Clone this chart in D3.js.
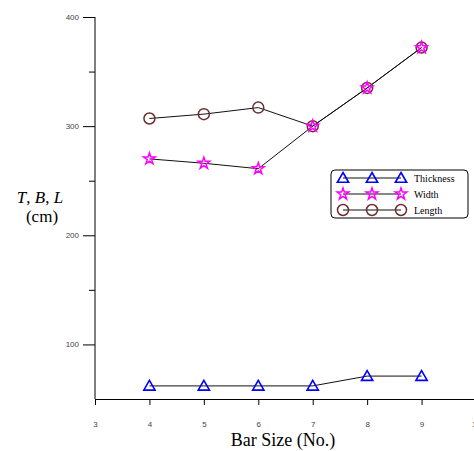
<!DOCTYPE html>
<html><head><meta charset="utf-8">
<script src="https://cdn.jsdelivr.net/npm/d3@7"></script>
<style>body{margin:0;background:#fff}svg{display:block}</style>
</head><body>
<svg id="c" width="474" height="451"></svg>
<script>
const barSizes = [4, 5, 6, 7, 8, 9];
const thickness = [62, 62, 62, 62, 71, 71];
const width = [270, 266, 261, 300, 335, 372];
const length = [307, 311, 317, 300, 335, 372];
const xTicks = [3, 4, 5, 6, 7, 8, 9, 10];
const yTicks = [100, 200, 300, 400];
const yMinor = [150, 250, 350];
const seriesNames = ["Thickness", "Width", "Length"];

const svg = d3.select("#c");
const x = d3.scaleLinear().domain([3, 10]).range([95, 476]);
const y = d3.scaleLinear().domain([50, 400]).range([399, 17]);

// axes
const xAxis = svg.append("g").attr("transform", "translate(0,399)")
  .call(d3.axisBottom(x).tickValues(xTicks).tickFormat(d3.format("d")).tickSize(6).tickPadding(16));
xAxis.select(".domain").attr("stroke", "#000");
xAxis.selectAll("text").attr("font-family", "Arial, Liberation Sans, sans-serif").attr("font-size", 8).attr("fill", "#444");

const yAxis = svg.append("g").attr("transform", "translate(95,0)")
  .call(d3.axisLeft(y).tickValues(yTicks).tickFormat(d3.format("d")).tickSize(12).tickPadding(4));
yAxis.select(".domain").attr("d", `M-0,${y(400)}V${y(50)}`).attr("stroke", "#000");
yAxis.selectAll("text").attr("font-family", "Arial, Liberation Sans, sans-serif").attr("font-size", 8).attr("fill", "#444");
svg.append("g").attr("transform", "translate(95,0)")
  .call(d3.axisLeft(y).tickValues(yMinor).tickFormat("").tickSize(6))
  .select(".domain").remove();

// titles
svg.append("text").attr("x", 283).attr("y", 446).attr("text-anchor", "middle")
  .attr("font-family", "Liberation Serif, Times New Roman, serif").attr("font-size", 18).text("Bar Size (No.)");
const yl = svg.append("text").attr("x", 40).attr("y", 203).attr("text-anchor", "middle")
  .attr("font-family", "Liberation Serif, Times New Roman, serif").attr("font-size", 17);
yl.append("tspan").attr("font-style", "italic").text("T");
yl.append("tspan").text(", ");
yl.append("tspan").attr("font-style", "italic").text("B");
yl.append("tspan").text(", ");
yl.append("tspan").attr("font-style", "italic").text("L");
svg.append("text").attr("x", 42).attr("y", 222).attr("text-anchor", "middle")
  .attr("font-family", "Liberation Serif, Times New Roman, serif").attr("font-size", 17).text("(cm)");

const line = d3.line().x((d, i) => x(barSizes[i])).y(d => y(d));
const starPath = d3.symbol().type(d3.symbolStar).size(42);
const triPath = d3.symbol().type(d3.symbolTriangle).size(55);

function marker(g, type, cx, cy) {
  if (type === "Thickness") {
    g.append("path").attr("d", triPath()).attr("transform", `translate(${cx},${cy + 1})`)
      .attr("fill", "none").attr("stroke", "#0000ff").attr("stroke-width", 1.6);
  } else if (type === "Width") {
    g.append("path").attr("d", starPath()).attr("transform", `translate(${cx},${cy})`)
      .attr("fill", "none").attr("stroke", "#ff00ff").attr("stroke-width", 1.5);
  } else {
    g.append("circle").attr("cx", cx).attr("cy", cy).attr("r", 5.5)
      .attr("fill", "none").attr("stroke", "#6b2f2f").attr("stroke-width", 1.5);
  }
}

const data = { Thickness: thickness, Width: width, Length: length };
const plot = svg.append("g");
seriesNames.forEach(name => {
  plot.append("path").attr("d", line(data[name])).attr("fill", "none").attr("stroke", "#111").attr("stroke-width", 1);
});
["Length", "Width", "Thickness"].forEach(name => {
  data[name].forEach((v, i) => marker(plot, name, x(barSizes[i]), y(v)));
});

// legend
const lg = svg.append("g");
lg.append("rect").attr("x", 331).attr("y", 170).attr("width", 137).attr("height", 48).attr("rx", 4)
  .attr("fill", "#fff").attr("stroke", "#000").attr("stroke-width", 1);
seriesNames.forEach((name, i) => {
  const ly = 178 + i * 16;
  lg.append("line").attr("x1", 343).attr("x2", 401).attr("y1", ly).attr("y2", ly).attr("stroke", "#111");
  [343, 372, 401].forEach(mx => marker(lg, name, mx, ly));
  lg.append("text").attr("x", 414).attr("y", ly + 4)
    .attr("font-family", "Liberation Serif, Times New Roman, serif").attr("font-size", 10).text(name);
});
</script>
</body></html>
